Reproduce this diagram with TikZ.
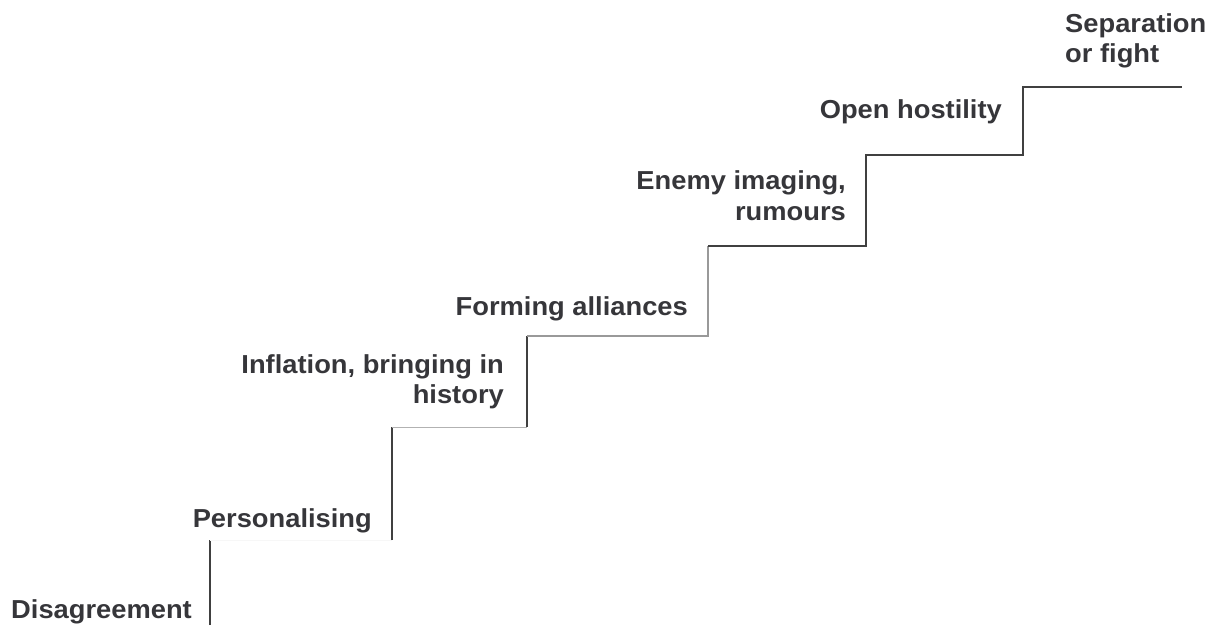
\documentclass[tikz,border=0pt]{standalone}
\usepackage{fontspec}
\setmainfont[FakeStretch=1.05]{Liberation Sans}
\usepackage{xcolor}
\usepackage{tikz}
\usetikzlibrary{positioning}

\definecolor{stairgray}{HTML}{404040}
\definecolor{textgray}{HTML}{36363A}

\begin{document}
\begin{tikzpicture}[
    x=1pt, y=-1pt,
    step label/.style={inner sep=0pt, text=textgray, font=\fontsize{26}{30}\selectfont\bfseries},
    stair/.style={draw=stairgray, line width=1.6pt}
]
    \useasboundingbox (0,0) rectangle (1214,625);

    % corners of the stairs
    \coordinate (s0) at (210,625);
    \coordinate (s1) at (210,540);
    \coordinate (s2) at (392,540);
    \coordinate (s3) at (392,427);
    \coordinate (s4) at (527,427);
    \coordinate (s5) at (527,336);
    \coordinate (s6) at (708,336);
    \coordinate (s7) at (708,246);
    \coordinate (s8) at (866,246);
    \coordinate (s9) at (866,155);
    \coordinate (s10) at (1023,155);
    \coordinate (s11) at (1023,87);
    \coordinate (s12) at (1182,87);

    \draw[stair] (s0) -- (s1);
    \draw[draw=gray!6, line width=1pt] (s1) -- (s2);
    \draw[stair] (s2) -- (s3);
    \draw[draw=gray!60, line width=1pt] (s3) -- (s4);
    \draw[stair] (s4) -- (s5);
    \draw[draw=gray!80, line width=1.2pt] (s5) -- (s6) -- (s7);
    \draw[stair] (s7) -- (s8) -- (s9) -- (s10) -- (s11) -- (s12);

    % labels
    \node[step label, anchor=base east] (disagree) at (192,618) {Disagreement};
    \node[step label, anchor=base east] (personal) at (372,527) {Personalising};
    \node[step label, anchor=base east] (inflation) at (504,373) {Inflation, bringing in};
    \node[step label, anchor=base east] (history) at (504,403) {history};
    \node[step label, anchor=base east] (alliance) at (688,315) {Forming alliances};
    \node[step label, anchor=base east] (enemy) at (846,189) {Enemy imaging,};
    \node[step label, anchor=base east] (rumour) at (846,220) {rumours};
    \node[step label, anchor=base east] (hostile) at (1002,118) {Open hostility};
    \node[step label, anchor=base west] (separate) at (1065,32) {Separation};
    \node[step label, anchor=base west] (fight) at (1065,62) {or fight};
\end{tikzpicture}
\end{document}
